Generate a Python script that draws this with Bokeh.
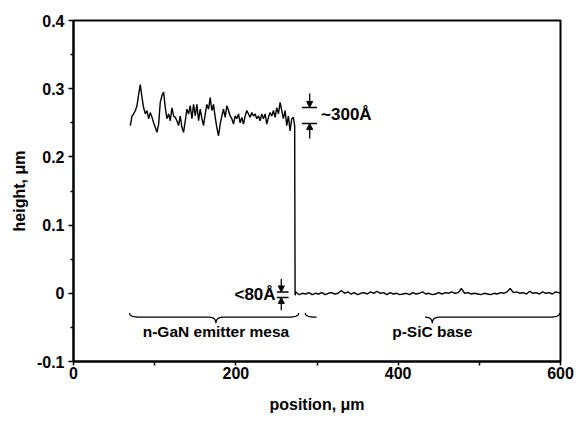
import numpy as np
from bokeh.plotting import figure
from bokeh.models import Range1d, FixedTicker, Arrow, NormalHead, Label, CustomJSTickFormatter
from bokeh.embed import file_html
from bokeh.resources import INLINE

# ---------------- data ----------------
mesa_x = [70.0, 72.1, 74.1, 76.2, 78.2, 80.3, 82.3, 84.4, 86.4, 88.5, 90.5, 92.6, 94.6, 96.7, 98.7,
          100.8, 102.8, 104.9, 106.9, 109.0, 111.0, 113.1, 115.1, 117.2, 119.2, 121.3, 123.3, 125.4,
          127.4, 129.5, 131.5, 133.6, 135.6, 137.7, 139.7, 141.8, 143.8, 145.9, 147.9, 150.0, 152.0,
          154.1, 156.1, 158.2, 160.2, 162.3, 164.3, 166.4, 168.4, 170.5, 172.5, 174.6, 176.6, 178.7,
          180.7, 182.8, 184.8, 186.9, 188.9, 191.0, 193.0, 195.1, 197.1, 199.2, 201.2, 203.3, 205.3,
          207.4, 209.4, 211.5, 213.5, 215.6, 217.6, 219.7, 221.7, 223.8, 225.8, 227.9, 229.9, 232.0,
          234.0, 236.1, 238.1, 240.2, 242.2, 244.3, 246.3, 248.4, 250.4, 252.5, 254.5, 256.6, 258.6,
          260.7, 262.7, 264.8, 266.8, 268.9, 270.9, 272.5]
mesa_h = [0.246, 0.260, 0.263, 0.268, 0.275, 0.292, 0.306, 0.287, 0.272, 0.263,
          0.268, 0.256, 0.265, 0.258, 0.250, 0.243, 0.236, 0.248, 0.280, 0.290,
          0.295, 0.272, 0.256, 0.263, 0.253, 0.272, 0.260, 0.258, 0.253, 0.246,
          0.260, 0.243, 0.236, 0.253, 0.270, 0.263, 0.275, 0.256, 0.277, 0.260,
          0.277, 0.253, 0.270, 0.256, 0.246, 0.263, 0.277, 0.270, 0.287, 0.268,
          0.277, 0.258, 0.243, 0.231, 0.248, 0.260, 0.270, 0.258, 0.275, 0.268,
          0.260, 0.256, 0.248, 0.260, 0.256, 0.263, 0.250, 0.258, 0.248, 0.260,
          0.268, 0.263, 0.258, 0.265, 0.260, 0.263, 0.256, 0.260, 0.253, 0.263,
          0.256, 0.263, 0.248, 0.258, 0.265, 0.260, 0.268, 0.258, 0.272, 0.263,
          0.280, 0.268, 0.256, 0.268, 0.246, 0.260, 0.238, 0.256, 0.258, 0.245]

base_x = [273, 274, 278, 282, 286, 290, 294, 298, 302, 306, 310, 314, 318, 322, 326, 330, 334, 338,
          342, 346, 350, 354, 358, 362, 366, 370, 374, 378, 382, 386, 390, 394, 398, 402, 406,
          410, 414, 418, 422, 426, 430, 434, 438, 442, 446, 450, 454, 458, 462, 466, 470, 474,
          478, 482, 486, 490, 494, 498, 502, 506, 510, 514, 518, 522, 526, 530, 534, 538, 542,
          546, 550, 554, 558, 562, 566, 570, 574, 578, 582, 586, 590, 594, 598, 600]
base_h = [-0.003, 0.002, -0.002, 0.000, -0.001, 0.001, -0.002, 0.000, -0.001, 0.001, -0.002,
          0.000, 0.001, -0.001, 0.000, 0.004, 0.000, 0.002, -0.001, 0.001, -0.002, 0.000, 0.001,
          -0.001, 0.002, 0.000, 0.003, 0.000, 0.001, -0.002, 0.001, -0.001, 0.000, -0.002, -0.001,
          0.000, -0.002, 0.001, -0.001, 0.000, 0.002, -0.001, 0.000, -0.002, -0.001, 0.001, -0.001,
          0.001, 0.000, 0.002, 0.000, 0.001, 0.007, 0.000, 0.001, -0.001, 0.000, -0.001, -0.002,
          0.000, -0.001, -0.002, 0.000, -0.001, 0.001, 0.000, 0.002, 0.007, 0.001, 0.002, 0.000,
          0.001, -0.001, 0.003, 0.000, 0.001, -0.001, 0.002, 0.000, 0.001, -0.001, 0.002, 0.001, 0.000]

x_ticks = [0, 200, 400, 600]
x_minor = [100, 300, 500]
y_ticks = [-0.1, 0.0, 0.1, 0.2, 0.3, 0.4]
y_minor = [-0.05, 0.05, 0.15, 0.25, 0.35]

regions = ["n-GaN emitter mesa", "p-SiC base"]
region_spans = [(69, 277.5, 175.5), (285.5, 599, 442)]
step_label = "~300Å"
edge_label = "<80Å"
figure_tag = "458/2"

FONT = "Liberation Sans"
WEIGHT = "bold"

p = figure(width=576, height=426, output_backend="svg", toolbar_location=None,
           x_range=Range1d(0, 600), y_range=Range1d(-0.1, 0.4),
           min_border_left=73, min_border_right=16, min_border_top=20, min_border_bottom=65)
p.grid.visible = False
p.outline_line_color = "black"
p.outline_line_width = 2
p.background_fill_color = "white"

for ax in (p.xaxis[0], p.yaxis[0]):
    ax.axis_line_width = 2
    ax.major_label_text_font = FONT
    ax.major_label_text_font_size = "16px"
    ax.major_label_text_font_style = WEIGHT
    ax.major_label_text_color = "black"
    ax.axis_label_text_font = FONT
    ax.axis_label_text_font_size = "16px"
    ax.axis_label_text_font_style = WEIGHT
    ax.axis_label_text_color = "black"
    ax.major_tick_line_width = 1.5
    ax.minor_tick_line_width = 1.5

p.xaxis.ticker = FixedTicker(ticks=x_ticks, minor_ticks=x_minor)
p.yaxis.ticker = FixedTicker(ticks=y_ticks, minor_ticks=y_minor)
p.yaxis.formatter = CustomJSTickFormatter(code="return Math.abs(tick) < 1e-9 ? '0' : tick.toFixed(1);")
p.xaxis.axis_label = "position, μm"
p.yaxis.axis_label = "height, μm"
p.xaxis.major_tick_out = 4
p.xaxis.major_tick_in = 0
p.xaxis.minor_tick_out = 4
p.xaxis.minor_tick_in = 0
p.yaxis.major_tick_out = 5
p.yaxis.major_tick_in = 0
p.yaxis.minor_tick_out = 3
p.yaxis.minor_tick_in = 0
p.xaxis.major_label_standoff = 1
p.yaxis.major_label_standoff = 4
p.xaxis.axis_label_standoff = 14
p.yaxis.axis_label_standoff = 6

# profile trace
xs = mesa_x + base_x
ys = mesa_h + base_h
p.line(xs, ys, line_color="black", line_width=1.4)

# step-height marker (~300 Å)
for yy in (0.2725, 0.249):
    p.segment(x0=281.5, y0=yy, x1=300, y1=yy, line_color="black", line_width=1.5)
p.add_layout(Arrow(end=NormalHead(size=6, fill_color="black", line_color="black"),
                   x_start=291, y_start=0.293, x_end=291, y_end=0.2725, line_width=1.3))
p.add_layout(Arrow(end=NormalHead(size=6, fill_color="black", line_color="black"),
                   x_start=291, y_start=0.227, x_end=291, y_end=0.249, line_width=1.3))
p.add_layout(Label(x=305, y=0.262, text=step_label, text_font=FONT, text_font_size="17px",
                   text_font_style=WEIGHT, text_align="left", text_baseline="middle",
                   text_color="black"))

# edge marker (<80 Å)
for yy in (0.002, -0.006):
    p.segment(x0=250.5, y0=yy, x1=265, y1=yy, line_color="black", line_width=1.5)
p.add_layout(Arrow(end=NormalHead(size=6, fill_color="black", line_color="black"),
                   x_start=256, y_start=0.021, x_end=256, y_end=0.002, line_width=1.3))
p.add_layout(Arrow(end=NormalHead(size=6, fill_color="black", line_color="black"),
                   x_start=256, y_start=-0.025, x_end=256, y_end=-0.006, line_width=1.3))
p.add_layout(Label(x=249, y=-0.002, text=edge_label, text_font=FONT, text_font_size="17px",
                   text_font_style=WEIGHT, text_align="right", text_baseline="middle",
                   text_color="black"))


def brace(x0, x1, xt, y_end=-0.029, y_line=-0.035, y_tip=-0.044, curl=14, tipw=9, n=16):
    t = np.linspace(0, 1, n)

    def qb(a, b, c):
        return ((1 - t) ** 2 * a[0] + 2 * (1 - t) * t * b[0] + t ** 2 * c[0],
                (1 - t) ** 2 * a[1] + 2 * (1 - t) * t * b[1] + t ** 2 * c[1])
    parts = [qb((x0, y_end), (x0, y_line), (x0 + curl, y_line)),
             qb((xt - tipw, y_line), (xt, y_line), (xt, y_tip)),
             qb((xt, y_tip), (xt, y_line), (xt + tipw, y_line)),
             qb((x1 - curl, y_line), (x1, y_line), (x1, y_end))]
    bx = np.concatenate([q[0] for q in parts])
    by = np.concatenate([q[1] for q in parts])
    return bx, by


for (a, b, tip), name in zip(region_spans, regions):
    bx, by = brace(a, b, tip)
    if name == "p-SiC base":
        # the scanned brace has a break in its left arm
        k = np.searchsorted(bx[:len(bx) // 2], 370)
        bx = np.insert(bx, k, 370.0)
        by = np.insert(by, k, -0.035)
        by = np.where((bx > 356) & (bx < 385), np.nan, by)
    p.line(bx, by, line_color="black", line_width=1.3)
    p.add_layout(Label(x=tip, y=-0.0565, text=name, text_font=FONT, text_font_size="15.5px",
                       text_font_style=WEIGHT, text_align="center", text_baseline="middle",
                       text_color="black"))

p.add_layout(Label(x=549, y=-0.165, text=figure_tag, text_font=FONT, text_font_size="12px",
                   text_font_style=WEIGHT, text_align="center", text_baseline="top",
                   text_color="black", border_line_color="black", border_line_width=1.5,
                   padding=3))

open("out.html", "w").write(file_html(p, INLINE))
